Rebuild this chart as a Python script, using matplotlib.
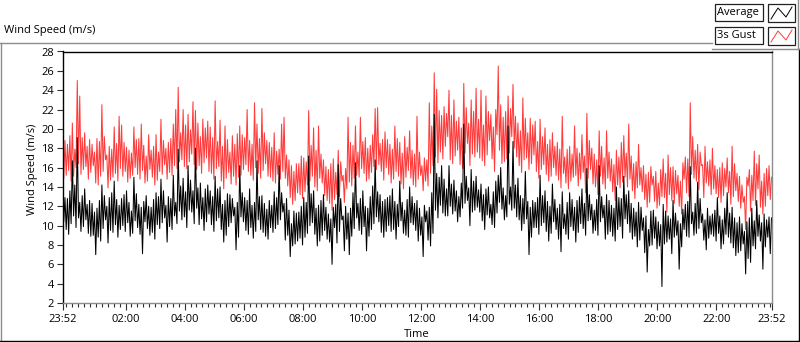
import numpy as np
import matplotlib
matplotlib.use('Agg')
import matplotlib.pyplot as plt
from matplotlib.lines import Line2D
from matplotlib.patches import Rectangle

# ---- data (2.5-minute samples, starting 23:52; one row per hour) ----
sample_minutes = 2.5
gust = [
    19.8, 14.9, 18.8, 15.2, 18.4, 15.7, 19.3, 14.6, 20.6, 15.1, 17.9, 16.0, 25.0, 16.4, 23.4, 15.3, 19.1, 15.8, 19.6, 16.1, 18.2, 14.8, 18.9, 15.5,
    18.4, 16.2, 17.6, 14.4, 19.0, 14.2, 18.7, 15.1, 22.5, 15.6, 19.2, 16.8, 17.3, 13.9, 18.2, 14.7, 17.9, 15.0, 20.2, 15.4, 18.5, 14.6, 21.3, 15.9,
    20.4, 15.1, 18.6, 15.6, 18.1, 14.5, 17.8, 14.9, 17.5, 15.2, 20.2, 16.0, 18.9, 15.3, 19.0, 14.8, 20.5, 15.7, 18.3, 14.4, 17.2, 14.6, 19.4, 15.8,
    17.8, 15.0, 18.2, 14.2, 19.4, 14.7, 17.6, 15.6, 21.0, 15.3, 18.8, 16.3, 18.0, 14.8, 18.6, 15.5, 19.0, 15.2, 20.5, 16.2, 22.0, 15.9, 24.3, 16.6,
    19.6, 16.8, 22.0, 16.1, 20.4, 15.9, 21.5, 16.6, 19.9, 17.4, 22.8, 16.3, 21.9, 15.8, 20.6, 16.2, 19.2, 15.4, 21.0, 16.5, 20.1, 17.0, 20.8, 15.6,
    20.2, 15.4, 19.1, 14.8, 22.9, 15.9, 18.7, 16.1, 20.9, 14.6, 18.2, 13.8, 20.3, 14.9, 18.9, 15.5, 17.6, 14.3, 19.3, 15.1, 18.4, 14.2, 19.5, 15.0,
    20.3, 15.2, 19.4, 15.8, 19.1, 16.3, 22.0, 15.6, 18.8, 15.2, 18.4, 14.7, 22.7, 16.0, 20.5, 15.4, 19.0, 14.9, 22.1, 15.7, 19.6, 16.4, 18.8, 15.1,
    18.6, 15.0, 18.1, 14.6, 19.6, 14.4, 17.7, 15.3, 17.9, 14.8, 20.5, 15.6, 21.2, 14.9, 17.3, 14.1, 16.8, 12.9, 16.2, 12.2, 15.6, 12.6, 16.4, 13.4,
    16.4, 13.2, 17.2, 12.8, 17.0, 13.5, 16.6, 14.2, 21.9, 14.6, 18.3, 15.1, 20.1, 14.0, 17.8, 13.6, 20.3, 14.9, 17.4, 14.4, 16.8, 13.1, 16.1, 12.6,
    15.8, 12.3, 16.4, 11.6, 16.9, 12.7, 15.5, 13.2, 17.8, 13.0, 16.6, 14.6, 15.2, 12.4, 15.9, 13.8, 21.2, 14.5, 18.6, 14.1, 18.3, 14.9, 20.3, 15.2,
    17.6, 15.0, 21.2, 15.9, 18.7, 15.4, 19.1, 14.6, 18.0, 14.8, 18.3, 15.5, 19.4, 16.1, 22.1, 15.8, 22.2, 16.3, 18.5, 15.6, 18.9, 14.7, 19.7, 16.0,
    18.9, 15.3, 18.4, 14.4, 17.9, 14.8, 20.3, 15.6, 19.0, 15.1, 18.6, 14.3, 17.5, 13.8, 19.2, 15.0, 18.1, 15.7, 19.8, 14.9, 17.8, 14.2, 17.4, 14.0,
    21.3, 14.8, 17.6, 15.2, 16.2, 13.6, 17.0, 14.6, 16.8, 14.1, 22.7, 15.4, 20.3, 16.2, 25.8, 17.1, 24.1, 16.5, 21.9, 17.6, 21.4, 16.9, 22.3, 18.2,
    21.6, 19.2, 24.0, 16.8, 21.4, 16.4, 23.0, 17.2, 20.8, 17.8, 21.2, 16.3, 20.1, 15.9, 24.7, 17.5, 22.2, 18.5, 20.6, 16.2, 23.0, 17.4, 21.8, 17.1,
    24.2, 17.6, 21.0, 17.0, 24.0, 16.7, 20.4, 16.2, 23.4, 17.3, 21.8, 18.8, 21.5, 16.9, 20.2, 15.6, 22.0, 19.4, 26.5, 17.8, 22.5, 16.4, 21.2, 16.6,
    21.8, 16.9, 23.4, 17.5, 22.1, 19.2, 24.6, 18.0, 21.3, 17.1, 20.6, 16.2, 19.8, 15.5, 23.2, 16.8, 21.1, 17.0, 19.6, 15.8, 21.1, 16.4, 20.4, 17.3,
    20.8, 15.6, 18.7, 14.9, 21.0, 15.8, 19.2, 16.3, 20.1, 15.3, 18.4, 14.6, 18.9, 15.1, 19.6, 16.0, 18.2, 15.2, 18.6, 14.7, 17.9, 13.9, 21.3, 15.4,
    17.1, 14.4, 17.9, 13.8, 18.2, 14.6, 17.4, 15.0, 20.3, 15.2, 18.0, 14.1, 17.5, 14.8, 19.4, 15.5, 17.2, 13.4, 21.6, 14.9, 18.8, 15.8, 18.0, 14.3,
    17.4, 14.0, 16.8, 13.2, 19.8, 15.1, 18.2, 14.3, 17.0, 13.8, 19.8, 14.9, 17.6, 14.6, 16.9, 13.5, 16.3, 12.6, 17.8, 14.2, 17.1, 13.9, 18.6, 14.5,
    19.3, 15.0, 17.5, 14.0, 20.5, 14.8, 17.2, 13.6, 16.4, 12.8, 16.6, 13.9, 18.4, 14.2, 16.0, 13.5, 16.2, 12.7, 15.3, 11.9, 15.5, 12.4, 16.1, 14.2,
    15.1, 12.5, 15.6, 11.8, 14.4, 12.1, 15.8, 13.0, 16.9, 12.9, 15.4, 11.4, 17.3, 13.2, 16.0, 12.6, 16.1, 12.3, 15.7, 13.3, 15.2, 12.0, 14.6, 11.2,
    16.5, 14.8, 17.1, 13.4, 16.9, 13.0, 22.7, 15.3, 19.2, 14.9, 17.8, 14.6, 18.4, 13.7, 17.6, 16.2, 16.3, 12.9, 18.2, 14.4, 16.6, 14.1, 16.8, 13.2,
    18.0, 13.8, 16.2, 13.3, 15.8, 12.9, 16.0, 12.4, 16.5, 13.1, 15.9, 14.0, 17.0, 13.4, 15.6, 12.2, 18.2, 13.0, 16.4, 13.6, 15.4, 12.5, 15.1, 11.8,
    14.2, 12.4, 13.0, 9.6, 15.0, 14.1, 15.8, 11.5, 15.2, 12.6, 17.7, 12.1, 16.4, 13.8, 17.3, 11.9, 14.6, 11.2, 15.4, 12.0, 15.9, 13.1, 16.2, 12.7,
    15.0,
]
average = [
    13.5, 10.4, 12.9, 9.6, 12.8, 9.1, 13.6, 10.2, 16.7, 11.0, 14.2, 9.8, 19.1, 10.8, 12.4, 9.4, 13.1, 9.9, 13.8, 10.6, 12.2, 9.2, 12.6, 8.9,
    12.3, 9.0, 11.4, 7.0, 11.8, 8.8, 12.6, 8.4, 14.2, 9.7, 13.1, 10.6, 12.0, 8.2, 12.9, 9.5, 13.4, 9.3, 14.6, 10.1, 12.7, 8.8, 12.1, 9.6,
    12.8, 10.0, 13.2, 9.4, 13.6, 10.3, 12.4, 8.9, 11.5, 9.2, 15.0, 10.5, 13.3, 9.8, 12.2, 9.1, 11.9, 7.1, 12.5, 10.4, 13.1, 9.7, 12.0, 9.0,
    11.9, 9.3, 12.7, 8.6, 13.4, 10.1, 13.0, 9.7, 14.8, 10.3, 13.6, 10.8, 12.1, 8.3, 13.0, 9.9, 12.8, 9.6, 15.2, 11.0, 12.4, 10.2, 17.9, 11.5,
    14.1, 10.6, 14.9, 10.9, 13.5, 9.8, 16.2, 11.6, 14.7, 11.4, 13.6, 10.2, 18.0, 11.8, 13.9, 10.1, 14.4, 10.7, 12.9, 9.5, 13.8, 10.4, 14.2, 11.2,
    13.6, 10.1, 13.0, 9.4, 15.1, 10.5, 13.8, 10.8, 14.0, 9.6, 12.2, 8.3, 12.6, 9.0, 13.3, 9.9, 13.2, 10.3, 12.8, 11.0, 11.9, 7.5, 12.4, 8.8,
    16.2, 10.9, 13.4, 10.4, 12.9, 9.5, 12.6, 9.1, 13.8, 9.8, 12.1, 8.7, 12.4, 9.4, 16.7, 10.6, 13.0, 9.6, 13.1, 9.3, 12.3, 8.9, 11.7, 8.6,
    12.6, 9.8, 12.1, 9.3, 13.5, 9.7, 12.9, 10.1, 16.2, 10.6, 13.4, 11.4, 12.3, 8.5, 12.8, 9.0, 11.6, 6.8, 10.2, 7.9, 11.5, 8.1, 11.3, 8.4,
    11.4, 8.7, 12.0, 8.0, 12.9, 8.8, 12.4, 9.2, 17.2, 10.0, 13.3, 10.3, 13.6, 9.1, 11.8, 7.9, 12.1, 8.4, 12.6, 9.0, 13.2, 9.5, 11.9, 8.6,
    11.2, 8.3, 10.7, 6.0, 11.9, 9.8, 12.2, 8.2, 16.3, 9.4, 12.8, 10.6, 11.0, 7.4, 12.0, 8.6, 11.3, 7.0, 11.8, 8.9, 13.4, 9.7, 16.5, 10.8,
    12.3, 9.5, 12.8, 9.1, 13.6, 9.9, 12.0, 7.4, 11.8, 8.9, 13.0, 9.6, 14.1, 10.2, 16.8, 10.9, 13.5, 10.4, 13.2, 9.3, 12.5, 8.8, 12.7, 9.4,
    12.9, 10.0, 13.1, 9.4, 13.8, 9.6, 12.5, 8.6, 12.2, 9.9, 14.6, 10.5, 12.4, 9.2, 11.6, 9.0, 12.7, 8.8, 14.0, 10.3, 13.0, 10.1, 12.3, 9.5,
    12.6, 8.4, 11.8, 9.0, 10.9, 6.8, 12.1, 10.4, 11.5, 8.5, 11.9, 7.9, 13.4, 9.2, 21.5, 11.6, 15.4, 10.8, 15.0, 12.1, 16.2, 11.3, 14.8, 11.0,
    13.8, 11.0, 16.2, 12.0, 14.3, 11.2, 14.7, 11.5, 13.6, 10.4, 13.0, 10.9, 14.4, 11.8, 20.5, 12.3, 15.1, 12.6, 13.9, 10.0, 15.8, 11.4, 14.6, 11.6,
    15.1, 11.9, 13.7, 11.4, 14.3, 10.5, 13.2, 9.6, 13.8, 11.1, 14.0, 10.8, 12.2, 10.1, 13.5, 9.8, 14.6, 11.3, 15.2, 12.4, 16.0, 11.7, 13.9, 10.6,
    13.1, 10.9, 20.3, 12.2, 14.0, 11.6, 18.7, 11.8, 14.2, 10.9, 14.9, 10.6, 13.1, 9.5, 12.8, 10.2, 15.6, 10.7, 12.5, 7.0, 11.9, 8.8, 12.6, 9.8,
    12.4, 9.8, 12.9, 9.1, 15.2, 10.0, 13.1, 10.3, 13.6, 9.4, 12.5, 8.4, 12.0, 9.2, 14.3, 10.4, 12.7, 9.6, 11.8, 8.6, 12.2, 7.3, 13.5, 9.7,
    11.2, 9.1, 12.4, 8.6, 13.4, 9.9, 12.7, 9.5, 11.9, 8.3, 12.6, 9.3, 13.0, 10.2, 13.8, 9.7, 12.3, 9.0, 15.9, 10.5, 13.2, 10.6, 12.2, 9.2,
    11.6, 9.5, 12.7, 9.0, 16.2, 10.4, 13.0, 10.8, 12.1, 8.6, 13.2, 9.1, 12.6, 9.4, 12.1, 8.9, 11.8, 8.4, 14.0, 9.6, 12.9, 9.9, 12.8, 8.7,
    15.1, 10.7, 13.2, 10.2, 13.6, 9.3, 12.3, 8.6, 11.8, 8.9, 11.4, 7.8, 12.4, 8.5, 11.9, 9.5, 10.8, 7.2, 11.0, 5.2, 9.6, 7.9, 11.5, 8.0,
    11.6, 8.7, 10.9, 7.6, 10.4, 7.9, 10.1, 3.7, 12.2, 8.1, 11.5, 8.3, 11.0, 8.6, 10.7, 7.1, 12.6, 8.8, 11.3, 9.0, 10.5, 5.5, 10.2, 7.8,
    11.7, 9.6, 12.2, 8.9, 12.5, 8.8, 16.1, 10.2, 11.4, 9.0, 12.3, 9.2, 14.5, 9.7, 12.8, 10.3, 11.2, 8.5, 10.6, 7.5, 11.8, 8.7, 11.0, 9.1,
    11.2, 8.9, 11.6, 8.4, 12.9, 9.2, 11.0, 7.6, 10.6, 8.1, 11.8, 9.1, 13.4, 8.8, 11.3, 8.2, 11.9, 7.7, 10.8, 6.9, 10.3, 7.2, 10.9, 7.4,
    10.2, 8.1, 9.4, 5.0, 10.4, 6.6, 10.8, 6.2, 11.8, 7.9, 10.5, 7.6, 12.6, 8.9, 11.1, 8.4, 10.3, 5.5, 11.2, 7.8, 10.6, 8.8, 10.9, 7.1,
    10.8,
]
major_tick_minutes = [0, 128, 248, 368, 488, 608, 728, 848, 968, 1088, 1208, 1328, 1440]
major_tick_labels = ["23:52", "02:00", "04:00", "06:00", "08:00", "10:00", "12:00",
                     "14:00", "16:00", "18:00", "20:00", "22:00", "23:52"]
y_ticks = list(range(2, 29, 2))
series_names = ["Average", "3s Gust"]

# ---- style ----
W, H = 800, 342
plt.rcParams['font.family'] = ['Open Sans', 'DejaVu Sans']
FS = 8
RED = '#ff3b3b'
GRAY = '#8c8c8c'

fig = plt.figure(figsize=(W / 100, H / 100), dpi=100)
fig.patch.set_facecolor('white')

def fx(x):
    return x / W

def fy(y):
    return 1 - y / H

ax_l, ax_r, ax_t, ax_b = 62.5, 771.5, 51.5, 303.0
ax = fig.add_axes([fx(ax_l), fy(ax_b), fx(ax_r - ax_l), (ax_b - ax_t) / H])

t = np.arange(len(gust)) * sample_minutes
ax.plot(t, gust, color=RED, lw=0.75)
ax.plot(t, average, color='black', lw=0.75)

ax.set_xlim(0, 1440)
ax.set_ylim(2, 28)
ax.set_yticks(y_ticks)
ax.set_yticklabels([str(v) for v in y_ticks], fontsize=FS)
ax.set_xticks(major_tick_minutes)
ax.set_xticklabels(major_tick_labels, fontsize=FS)
ax.set_xticks(np.arange(8, 1440, 12), minor=True)
ax.tick_params(axis='y', direction='out', length=4, width=0.8, color='#303030', pad=2)
ax.tick_params(axis='x', which='major', direction='out', length=5, width=0.8, color='#303030', pad=3)
ax.tick_params(axis='x', which='minor', direction='out', length=3, width=0.8, color='#303030')

for side, col in (('top', 'black'), ('left', 'black'), ('bottom', GRAY), ('right', GRAY)):
    ax.spines[side].set_color(col)
    ax.spines[side].set_linewidth(1.0)

ax.set_ylabel("Wind Speed (m/s)", fontsize=FS)
ax.yaxis.set_label_coords((38 - ax_l) / (ax_r - ax_l), (ax_b - 169) / (ax_b - ax_t))
ax.set_xlabel("Time", fontsize=FS, labelpad=3)

# ---- outer frame ----
def hline(y, x0, x1, color, lw=1.0):
    fig.add_artist(Line2D([fx(x0), fx(x1)], [fy(y), fy(y)], color=color, lw=lw))

def vline(x, y0, y1, color, lw=1.0):
    fig.add_artist(Line2D([fx(x), fx(x)], [fy(y0), fy(y1)], color=color, lw=lw))

hline(42.5, 0, 712, GRAY)
vline(0.5, 42.5, 341, GRAY)
hline(340.5, 0, 800, 'black')
vline(798.5, 49, 341, 'black')
# legend panel
hline(48.5, 712, 798.5, GRAY)
vline(797.5, 0, 48.5, GRAY)

fig.text(fx(4), fy(31), "Wind Speed (m/s)", fontsize=FS, ha='left', va='center')

# ---- legend ----
swatch_colors = ['black', RED]
for i, (name, col) in enumerate(zip(series_names, swatch_colors)):
    y0 = 4 + i * 23
    fig.add_artist(Rectangle((fx(715), fy(y0 + 16.5)), fx(48), 16.5 / H,
                             facecolor='white', edgecolor='#202020', lw=0.9))
    fig.text(fx(717), fy(y0 + 8.5), name, fontsize=FS, ha='left', va='center')
    fig.add_artist(Rectangle((fx(768), fy(y0 + 18)), fx(27), 18 / H,
                             facecolor='white', edgecolor='#202020', lw=0.9))
    xs = [771, 778, 786, 792]
    ys = [y0 + 15, y0 + 4, y0 + 13, y0 + 3]
    fig.add_artist(Line2D([fx(v) for v in xs], [fy(v) for v in ys], color=col, lw=0.7))

fig.savefig('out.png', dpi=100, facecolor='white')
